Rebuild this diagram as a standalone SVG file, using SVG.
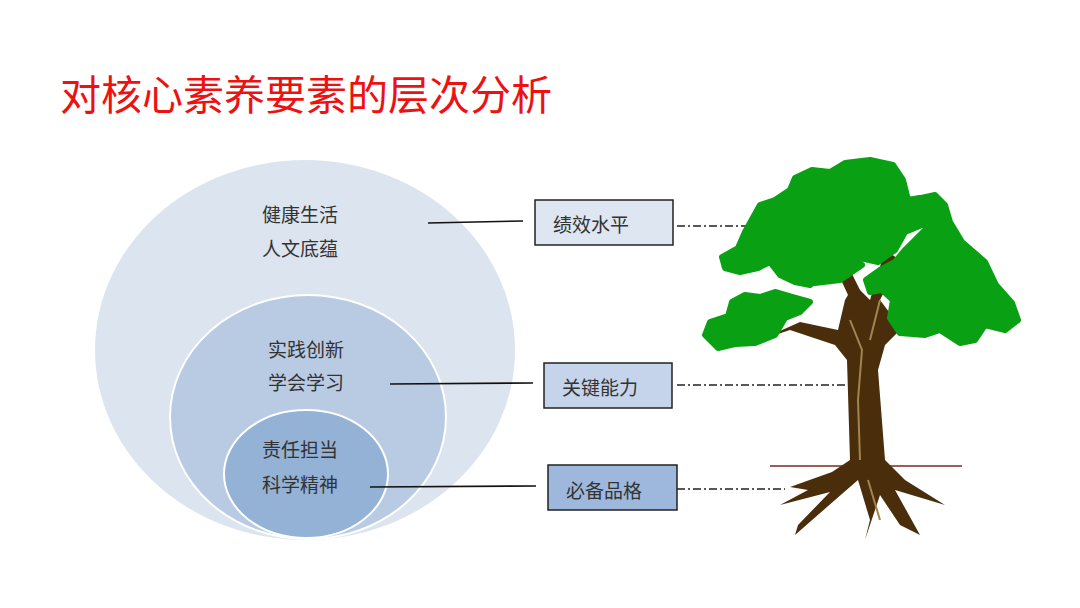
<svg xmlns="http://www.w3.org/2000/svg" width="1080" height="608" viewBox="0 0 1080 608">
<style>
.t{font-family:"Noto Sans CJK SC",sans-serif;font-size:19px;fill:#333}
.box{stroke:#222;stroke-width:1.5}
.ln{stroke:#111;stroke-width:1.6;fill:none}
.dd{stroke:#222;stroke-width:1.3;stroke-dasharray:8 3 2 3;fill:none}
.leaf{fill:#0aa014;stroke:#0aa014;stroke-width:6;stroke-linejoin:round}
.bark{fill:#4a2e0c}
.hl{fill:none;stroke:#a08550;stroke-width:2}
</style>
<rect width="1080" height="608" fill="#fff"/>
<text x="60" y="110" font-family="Noto Sans CJK SC,sans-serif" font-size="41" fill="#ee1111">对核心素养要素的层次分析</text>
<g id="circles">
<ellipse cx="305" cy="350" rx="210" ry="190" fill="#dbe4ef"/>
<ellipse cx="308" cy="417" rx="138" ry="122" fill="#b9cbe3" stroke="#fff" stroke-width="2"/>
<ellipse cx="306" cy="474" rx="82" ry="64" fill="#94b1d6" stroke="#fff" stroke-width="2"/>
</g>
<g id="outer-text"><text class="t" x="262" y="222">健康生活</text><text class="t" x="262" y="256">人文底蕴</text></g>
<g id="mid-text"><text class="t" x="268" y="357">实践创新</text><text class="t" x="268" y="390">学会学习</text></g>
<g id="inner-text"><text class="t" x="262" y="457">责任担当</text><text class="t" x="262" y="492">科学精神</text></g>
<g id="box1"><rect class="box" x="535" y="200" width="138" height="45" fill="#dde6f1"/><text class="t" x="553" y="232">绩效水平</text></g>
<g id="box2"><rect class="box" x="544" y="363" width="128" height="45" fill="#c5d4ea"/><text class="t" x="562" y="395">关键能力</text></g>
<g id="box3"><rect class="box" x="548" y="465" width="129" height="45" fill="#9db8dc"/><text class="t" x="566" y="498">必备品格</text></g>
<g id="connectors">
<path class="ln" d="M428 223 L523 221"/>
<path class="ln" d="M390 384 L533 383"/>
<path class="ln" d="M370 487 L536 486"/>
<path class="dd" d="M677 226 H763"/>
<path class="dd" d="M677 385 H849"/>
<path class="dd" d="M677 489 H785"/>
</g>
<g id="tree">
<line x1="770" y1="466" x2="962" y2="466" stroke="#7a2a20" stroke-width="1.5"/>
<path class="bark" d="M845 300 L838 330 L800 322 L760 340 L790 330 L835 345 L847 360 L850 460 L832 472 L790 487 L808 490 L780 505 L830 492 L798 525 L795 535 L835 500 L858 480 L870 520 L865 540 L880 495 L900 525 L920 535 L895 490 L945 505 L905 480 L885 460 L878 370 L885 345 L900 330 L935 330 L895 320 L880 300 L900 260 L885 250 L870 300 L860 290 L840 250 L825 245 L848 295 Z"/>
<path class="hl" d="M860 460 L858 400 L862 350 L850 320 M868 480 L880 520 M870 340 L880 300"/>
<path class="leaf" d="M760 205 L775 200 L790 190 L795 178 L812 170 L830 172 L845 163 L870 160 L893 165 L903 180 L908 200 L920 198 L928 208 L922 225 L905 232 L895 250 L878 262 L860 258 L848 262 L830 270 L810 285 L795 282 L780 275 L770 262 L758 268 L740 272 L725 268 L722 257 L738 248 L745 232 Z"/>
<path class="leaf" d="M705 335 L710 322 L728 316 L732 302 L745 295 L760 297 L775 292 L792 297 L810 302 L800 312 L785 318 L775 335 L755 343 L735 344 L718 348 Z"/>
<path class="leaf" d="M882 200 L895 197 L912 200 L935 195 L945 205 L950 222 L962 242 L985 262 L996 285 L1012 303 L1018 320 L1005 330 L985 325 L975 340 L960 343 L940 330 L925 335 L900 333 L890 318 L893 300 L882 290 L870 292 L866 280 L880 270 L895 262 L905 250 L915 240 L925 230 L928 215 Z"/>
<path class="leaf" d="M808 262 L828 250 L848 255 L862 265 L840 280 L815 283 Z"/>
</g>
</svg>
